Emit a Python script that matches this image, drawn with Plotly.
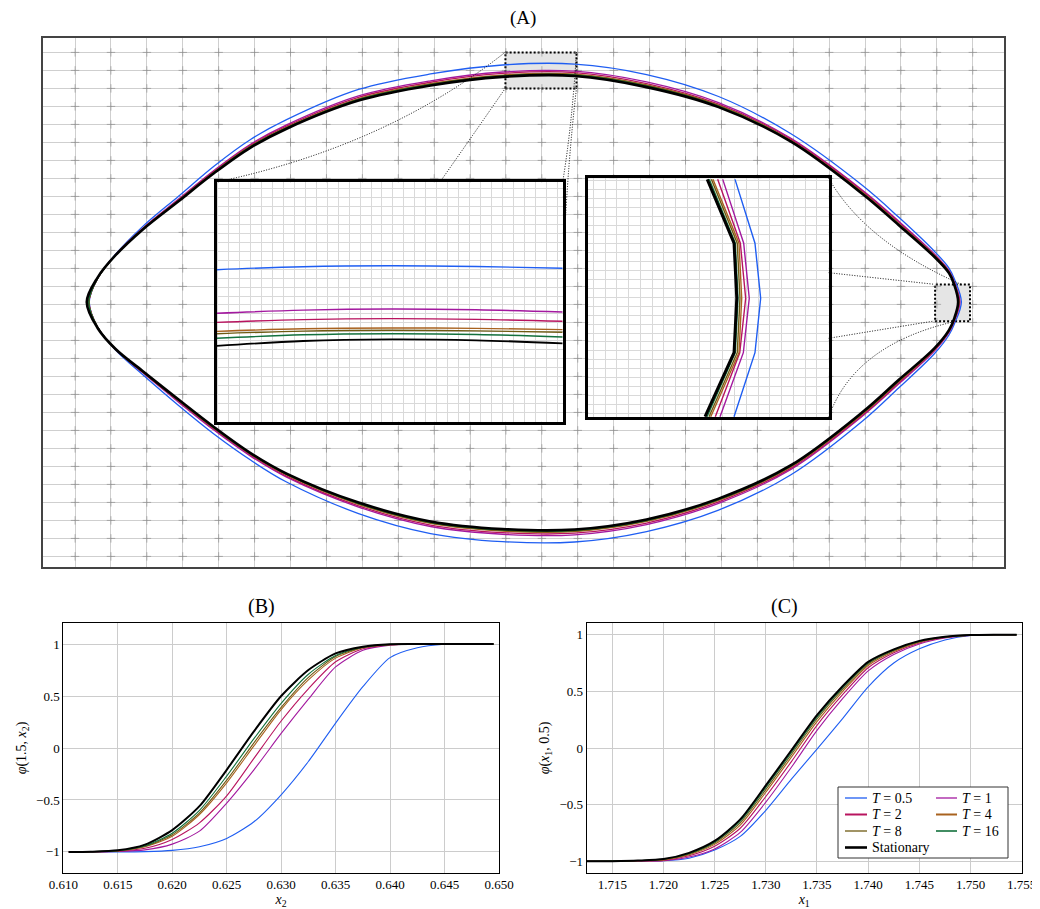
import numpy as np
import plotly.graph_objects as go

# page body has an 8 px margin: the figure is laid out in screen pixels of the 1040x909 window
OFF = 8
W, H = 1040 - OFF, 909 - OFF


def SX(px):
    return (px - OFF) / W


def SY(py):
    return 1 - (py - OFF) / H


# ---------------- series ----------------
names = ["<i>T</i> = 0.5", "<i>T</i> = 1", "<i>T</i> = 2", "<i>T</i> = 4",
         "<i>T</i> = 8", "<i>T</i> = 16", "Stationary"]

# ---------------- (A) interface contours: x2 of upper / lower branch at shared x1 ----------------
x1_samples = [1.255, 1.265, 1.28, 1.30, 1.32, 1.34, 1.36, 1.40, 1.44, 1.48,
              1.52, 1.56, 1.60, 1.64, 1.68, 1.70, 1.72, 1.728, 1.731]

a_up_T05 = [0.5131, 0.5266, 0.5419, 0.5588, 0.5757, 0.5903, 0.6013, 0.6181, 0.6267, 0.6317,
            0.6322, 0.6264, 0.6142, 0.5936, 0.5647, 0.5472, 0.5281, 0.5189, 0.5128]
a_lo_T05 = [0.4861, 0.4733, 0.4597, 0.4425, 0.4264, 0.4122, 0.4000, 0.3825, 0.3714, 0.3669,
            0.3667, 0.3725, 0.3844, 0.4039, 0.4339, 0.4522, 0.4714, 0.4817, 0.4878]
a_up_T1 = [0.5131, 0.5262, 0.5409, 0.5572, 0.5734, 0.5877, 0.5984, 0.6145, 0.6229, 0.6278,
           0.6283, 0.6223, 0.6108, 0.5911, 0.5621, 0.5450, 0.5266, 0.5175, 0.5111]
a_lo_T1 = [0.4861, 0.4737, 0.4608, 0.4444, 0.4286, 0.4144, 0.4027, 0.3861, 0.3753, 0.3710,
           0.3707, 0.3764, 0.3882, 0.4069, 0.4367, 0.4544, 0.4729, 0.4831, 0.4894]
a_up_T2 = [0.5131, 0.5262, 0.5407, 0.5568, 0.5729, 0.5871, 0.5977, 0.6137, 0.6221, 0.6270,
           0.6275, 0.6214, 0.6100, 0.5905, 0.5616, 0.5444, 0.5261, 0.5171, 0.5107]
a_lo_T2 = [0.4861, 0.4737, 0.4611, 0.4449, 0.4292, 0.4150, 0.4033, 0.3868, 0.3761, 0.3719,
           0.3716, 0.3772, 0.3890, 0.4076, 0.4372, 0.4550, 0.4733, 0.4834, 0.4899]
a_up_T4 = [0.5131, 0.5261, 0.5405, 0.5564, 0.5724, 0.5866, 0.5971, 0.6129, 0.6213, 0.6261,
           0.6266, 0.6206, 0.6093, 0.5899, 0.5609, 0.5437, 0.5257, 0.5167, 0.5101]
a_lo_T4 = [0.4861, 0.4738, 0.4613, 0.4453, 0.4297, 0.4155, 0.4039, 0.3876, 0.3770, 0.3728,
           0.3725, 0.3781, 0.3898, 0.4083, 0.4379, 0.4557, 0.4738, 0.4839, 0.4904]
a_up_T8 = [0.5131, 0.5261, 0.5404, 0.5563, 0.5723, 0.5864, 0.5969, 0.6127, 0.6211, 0.6258,
           0.6263, 0.6203, 0.6091, 0.5897, 0.5606, 0.5434, 0.5254, 0.5165, 0.5099]
a_lo_T8 = [0.4861, 0.4738, 0.4614, 0.4454, 0.4298, 0.4157, 0.4042, 0.3879, 0.3773, 0.3731,
           0.3728, 0.3784, 0.3901, 0.4086, 0.4382, 0.4560, 0.4740, 0.4841, 0.4907]
a_up_T16 = [0.5131, 0.5260, 0.5403, 0.5562, 0.5721, 0.5862, 0.5966, 0.6124, 0.6207, 0.6255,
            0.6260, 0.6199, 0.6087, 0.5895, 0.5603, 0.5431, 0.5252, 0.5163, 0.5097]
a_lo_T16 = [0.4861, 0.4739, 0.4616, 0.4456, 0.4300, 0.4158, 0.4044, 0.3882, 0.3776, 0.3734,
            0.3732, 0.3787, 0.3904, 0.4088, 0.4386, 0.4564, 0.4743, 0.4843, 0.4909]
a_up_stat = [0.5136, 0.5260, 0.5402, 0.5560, 0.5718, 0.5858, 0.5963, 0.6119, 0.6203, 0.6251,
             0.6256, 0.6194, 0.6083, 0.5892, 0.5600, 0.5428, 0.5250, 0.5161, 0.5094]
a_lo_stat = [0.4856, 0.4739, 0.4617, 0.4458, 0.4303, 0.4161, 0.4047, 0.3886, 0.3781, 0.3739,
             0.3736, 0.3792, 0.3908, 0.4092, 0.4389, 0.4567, 0.4744, 0.4844, 0.4911]
# tips on the line x2 = 0.5
tip_x2 = 0.5
tip_left = [1.2504, 1.2503, 1.2503, 1.2502, 1.2502, 1.2501, 1.2490]
tip_right = [1.7349, 1.7341, 1.7338, 1.7335, 1.7334, 1.7332, 1.7331]

# ---------------- zoom window 1 (top of interface) ----------------
z1_x1 = [1.4816, 1.49148, 1.50135, 1.51123, 1.5211]
z1_T05 = [0.63140, 0.63165, 0.63173, 0.63167, 0.63152]
z1_T1 = [0.62776, 0.62802, 0.62812, 0.62805, 0.62786]
z1_T2 = [0.62700, 0.62723, 0.62731, 0.62725, 0.62709]
z1_T4 = [0.62625, 0.62646, 0.62653, 0.62650, 0.62639]
z1_T8 = [0.62605, 0.62627, 0.62634, 0.62629, 0.62617]
z1_T16 = [0.62567, 0.62596, 0.62605, 0.62599, 0.62578]
z1_stat = [0.62503, 0.62544, 0.62558, 0.62550, 0.62525]

# ---------------- zoom window 2 (right tip) ----------------
z2_x2 = [0.50971, 0.50423, 0.49951, 0.49484, 0.48935]
z2_T05 = [1.73214, 1.73375, 1.73421, 1.73375, 1.73206]
z2_T1 = [1.73115, 1.73284, 1.73329, 1.73281, 1.73093]
z2_T2 = [1.73074, 1.73257, 1.73300, 1.73252, 1.73055]
z2_T4 = [1.73036, 1.73246, 1.73268, 1.73246, 1.73018]
z2_T8 = [1.73023, 1.73232, 1.73254, 1.73232, 1.73004]
z2_T16 = [1.73006, 1.73216, 1.73238, 1.73216, 1.72988]
z2_stat = [1.72990, 1.73206, 1.73228, 1.73206, 1.72972]

# ---------------- (B) phi(1.5, x2) ----------------
b_x2 = [0.6105, 0.6125, 0.615, 0.6175, 0.620, 0.6225, 0.625, 0.6275, 0.630,
        0.6325, 0.635, 0.6375, 0.640, 0.6425, 0.645, 0.6475, 0.6495]
b_T05 = [-1.0, -1.0, -1.0, -0.997, -0.985, -0.95, -0.87, -0.71, -0.45, -0.13, 0.24, 0.59, 0.87, 0.965, 0.998, 1.003, 1.0]
b_T1 = [-1.0, -1.0, -0.996, -0.98, -0.925, -0.80, -0.53, -0.21, 0.14, 0.47, 0.78, 0.94, 0.99, 1.004, 1.0, 1.0, 1.0]
b_T2 = [-1.0, -0.999, -0.993, -0.965, -0.88, -0.72, -0.46, -0.10, 0.26, 0.57, 0.83, 0.955, 0.993, 1.002, 1.0, 1.0, 1.0]
b_T4 = [-1.0, -0.998, -0.99, -0.95, -0.85, -0.64, -0.335, 0.02, 0.37, 0.655, 0.865, 0.965, 0.995, 1.0, 1.0, 1.0, 1.0]
b_T8 = [-1.0, -0.998, -0.989, -0.945, -0.835, -0.625, -0.31, 0.05, 0.39, 0.68, 0.88, 0.968, 0.996, 1.0, 1.0, 1.0, 1.0]
b_T16 = [-1.0, -0.998, -0.988, -0.94, -0.82, -0.60, -0.27, 0.09, 0.43, 0.71, 0.89, 0.97, 0.997, 1.0, 1.0, 1.0, 1.0]
b_stat = [-1.0, -0.998, -0.985, -0.93, -0.79, -0.56, -0.21, 0.16, 0.50, 0.75, 0.91, 0.975, 0.998, 1.0, 1.0, 1.0, 1.0]

# ---------------- (C) phi(x1, 0.5) ----------------
c_x1 = [1.7125, 1.715, 1.7175, 1.720, 1.7225, 1.725, 1.7275, 1.730, 1.7325,
        1.735, 1.7375, 1.740, 1.7425, 1.745, 1.7475, 1.750, 1.7525, 1.7545]
c_T05 = [-1.0, -1.0, -0.998, -0.995, -0.972, -0.90, -0.78, -0.55, -0.275, -0.01, 0.26, 0.54, 0.75, 0.875, 0.953, 0.993, 1.0, 1.0]
c_T1 = [-1.0, -0.999, -0.997, -0.994, -0.962, -0.89, -0.745, -0.478, -0.17, 0.155, 0.435, 0.68, 0.825, 0.918, 0.97, 0.993, 0.999, 1.0]
c_T2 = [-1.0, -0.999, -0.996, -0.991, -0.951, -0.867, -0.708, -0.428, -0.12, 0.20, 0.47, 0.708, 0.84, 0.927, 0.974, 0.994, 1.0, 1.0]
c_T4 = [-1.0, -0.999, -0.995, -0.987, -0.941, -0.85, -0.68, -0.39, -0.08, 0.233, 0.498, 0.728, 0.852, 0.934, 0.977, 0.995, 1.0, 1.0]
c_T8 = [-1.0, -0.998, -0.994, -0.984, -0.935, -0.838, -0.66, -0.367, -0.057, 0.256, 0.517, 0.74, 0.859, 0.938, 0.979, 0.996, 1.0, 1.0]
c_T16 = [-1.0, -0.998, -0.993, -0.982, -0.93, -0.829, -0.645, -0.348, -0.039, 0.273, 0.531, 0.75, 0.864, 0.942, 0.98, 0.996, 1.0, 1.0]
c_stat = [-1.0, -0.998, -0.993, -0.98, -0.925, -0.82, -0.63, -0.33, -0.02, 0.29, 0.545, 0.76, 0.87, 0.945, 0.982, 0.997, 1.0, 1.0]

# ---------------- styles ----------------
colors = ["#1f5ef2", "#a3199f", "#b8145f", "#a8621f", "#6e5a12", "#12703c", "#000000"]
w_main = [1.3, 1.3, 1.3, 1.3, 1.3, 1.3, 2.6]
w_zoom = [1.4, 1.4, 1.4, 1.4, 1.4, 1.4, 1.8]
w_prof = [1.1, 1.1, 1.1, 1.1, 1.1, 1.1, 2.0]
w_leg = [1.3, 1.3, 2.0, 2.0, 1.3, 1.6, 2.6]

A_XR = [1.2008 + 43 / 1800, 1.2008 + 1004 / 1800]
A_YR = [0.6678 - 567 / 1800, 0.6678 - 38 / 1800]
Z1_XR = [1.4816, 1.5211]
Z1_YR = [0.6187, 0.6387]
Z2_XR = [1.7203, 1.7397]
Z2_YR = [0.4893, 0.5098]

ups = [a_up_T05, a_up_T1, a_up_T2, a_up_T4, a_up_T8, a_up_T16, a_up_stat]
los = [a_lo_T05, a_lo_T1, a_lo_T2, a_lo_T4, a_lo_T8, a_lo_T16, a_lo_stat]
z1s = [z1_T05, z1_T1, z1_T2, z1_T4, z1_T8, z1_T16, z1_stat]
z2s = [z2_T05, z2_T1, z2_T2, z2_T4, z2_T8, z2_T16, z2_stat]
bs = [b_T05, b_T1, b_T2, b_T4, b_T8, b_T16, b_stat]
cs = [c_T05, c_T1, c_T2, c_T4, c_T8, c_T16, c_stat]

fig = go.Figure()

# mesh nodes of the main panel grid
gtx0, gdx = 1.2425, 0.01995
gty0, gdy = 0.6387, 0.01
gx = gtx0 + gdx * np.arange(-2, 30)
gx = gx[(gx > A_XR[0]) & (gx < A_XR[1])]
gy = gty0 - gdy * np.arange(-2, 32)
gy = gy[(gy > A_YR[0]) & (gy < A_YR[1])]
GX, GY = np.meshgrid(gx, gy)
fig.add_trace(go.Scatter(x=GX.ravel(), y=GY.ravel(), mode="markers", xaxis="x", yaxis="y",
                         marker=dict(symbol="cross-thin", size=6,
                                     line=dict(width=1, color="rgba(110,110,110,0.45)")),
                         hoverinfo="skip", showlegend=False))

i0 = 9
for k in range(7):
    up, lo = ups[k], los[k]
    xs = x1_samples[i0:] + [tip_right[k]] + x1_samples[::-1] + [tip_left[k]] + x1_samples[:i0 + 1]
    ys = up[i0:] + [tip_x2] + lo[::-1] + [tip_x2] + up[:i0 + 1]
    fig.add_trace(go.Scatter(x=xs, y=ys, mode="lines", xaxis="x", yaxis="y", name=names[k],
                             line=dict(color=colors[k], width=w_main[k], shape="spline", smoothing=1.0),
                             showlegend=False, hoverinfo="skip"))

for k in range(7):
    fig.add_trace(go.Scatter(x=z1_x1, y=z1s[k], mode="lines", xaxis="x2", yaxis="y2", name=names[k],
                             line=dict(color=colors[k], width=w_zoom[k], shape="spline"),
                             showlegend=False, hoverinfo="skip"))
for k in range(7):
    fig.add_trace(go.Scatter(x=z2s[k], y=z2_x2, mode="lines", xaxis="x3", yaxis="y3", name=names[k],
                             line=dict(color=colors[k], width=w_zoom[k] + (1.2 if k == 6 else 0)),
                             showlegend=False, hoverinfo="skip"))
for k in range(7):
    fig.add_trace(go.Scatter(x=b_x2, y=bs[k], mode="lines", xaxis="x4", yaxis="y4", name=names[k],
                             line=dict(color=colors[k], width=w_prof[k], shape="spline", smoothing=0.7),
                             showlegend=False, hoverinfo="skip"))
for k in range(7):
    fig.add_trace(go.Scatter(x=c_x1, y=cs[k], mode="lines", xaxis="x5", yaxis="y5", name=names[k],
                             line=dict(color=colors[k], width=w_prof[k], shape="spline", smoothing=0.7),
                             showlegend=False, hoverinfo="skip"))


def qpath(p0, c, p1):
    return (f"M {SX(p0[0]):.5f},{SY(p0[1]):.5f} Q {SX(c[0]):.5f},{SY(c[1]):.5f} "
            f"{SX(p1[0]):.5f},{SY(p1[1]):.5f}")


dot_thin = dict(color="black", width=1, dash="1px,1.6px")
shapes = [
    dict(type="rect", xref="x", yref="y", x0=Z1_XR[0], x1=Z1_XR[1], y0=Z1_YR[0], y1=Z1_YR[1],
         fillcolor="#e5e5e5", line=dict(color="black", width=2, dash="2px,2px"), layer="between"),
    dict(type="rect", xref="x", yref="y", x0=Z2_XR[0], x1=Z2_XR[1], y0=Z2_YR[0], y1=Z2_YR[1],
         fillcolor="#e5e5e5", line=dict(color="black", width=2, dash="2px,2px"), layer="between"),
    # connectors, window 1
    dict(type="path", xref="paper", yref="paper", path=qpath((505.5, 52), (387, 146), (217, 182)),
         line=dot_thin, layer="above"),
    dict(type="path", xref="paper", yref="paper", path=qpath((505.5, 88), (473, 135), (440, 182)),
         line=dot_thin, layer="above"),
    dict(type="path", xref="paper", yref="paper", path=qpath((576.5, 52), (572, 125), (562.7, 182)),
         line=dot_thin, layer="above"),
    dict(type="path", xref="paper", yref="paper", path=qpath((576.5, 88), (568, 160), (563.5, 255)),
         line=dot_thin, layer="above"),
    # connectors, window 2
    dict(type="path", xref="paper", yref="paper", path=qpath((828.7, 178.3), (865, 242), (961, 284.3)),
         line=dot_thin, layer="above"),
    dict(type="path", xref="paper", yref="paper", path=qpath((828.7, 272.7), (881, 278.5), (934.3, 284.3)),
         line=dot_thin, layer="above"),
    dict(type="path", xref="paper", yref="paper", path=qpath((828.7, 338.3), (881, 329.6), (934.3, 321)),
         line=dot_thin, layer="above"),
    dict(type="path", xref="paper", yref="paper", path=qpath((828.7, 417.3), (854, 344), (957, 321)),
         line=dot_thin, layer="above"),
    # legend frame
    dict(type="rect", xref="paper", yref="paper", x0=SX(838), x1=SX(1008), y0=SY(858), y1=SY(787),
         fillcolor="white", line=dict(color="#333", width=1), layer="above"),
]

title_font = dict(family="Liberation Serif", size=19, color="black")
annotations = [
    dict(text="(A)", x=SX(523), y=SY(18), xref="paper", yref="paper", showarrow=False,
         xanchor="center", yanchor="middle", font=title_font),
    dict(text="(B)", x=SX(261), y=SY(606), xref="paper", yref="paper", showarrow=False,
         xanchor="center", yanchor="middle", font=dict(family="Liberation Serif", size=20, color="black")),
    dict(text="(C)", x=SX(784), y=SY(606), xref="paper", yref="paper", showarrow=False,
         xanchor="center", yanchor="middle", font=dict(family="Liberation Serif", size=20, color="black")),
]

# legend of panel (C): two columns, row-major like the reference
leg_rows = [798, 814.5, 831, 847.5]
leg_cols = [(845, 867, 870), (936, 957, 960)]
for k in range(7):
    r, c = k // 2, k % 2
    x0, x1, xt = leg_cols[c]
    yy = leg_rows[r]
    shapes.append(dict(type="line", xref="paper", yref="paper", x0=SX(x0), x1=SX(x1), y0=SY(yy), y1=SY(yy),
                       line=dict(color=colors[k], width=w_leg[k]), layer="above"))
    annotations.append(dict(text=names[k], x=SX(xt), y=SY(yy), xref="paper", yref="paper", showarrow=False,
                            xanchor="left", yanchor="middle",
                            font=dict(family="Liberation Serif", size=14, color="black")))

main_ax = dict(showticklabels=False, ticks="", showgrid=True, gridcolor="#cfcfcf", gridwidth=1,
               zeroline=False, showline=True, mirror=True, linecolor="#444", linewidth=1.5,
               automargin=False)
zoom_ax = dict(showticklabels=False, ticks="", showgrid=True, gridcolor="#d9d9d9", gridwidth=0.8,
               zeroline=False, showline=True, mirror=True, linecolor="black", linewidth=3,
               automargin=False)
prof_ax = dict(ticks="", showgrid=True, gridcolor="#cccccc", gridwidth=1, zeroline=False,
               showline=True, mirror=True, linecolor="black", linewidth=1,
               tickfont=dict(size=13), automargin=False, ticklabeloverflow="allow")

b_xticks = [0.610, 0.615, 0.620, 0.625, 0.630, 0.635, 0.640, 0.645, 0.650]
c_xticks = [1.715, 1.720, 1.725, 1.730, 1.735, 1.740, 1.745, 1.750, 1.755]
phi_ticks = [-1, -0.5, 0, 0.5, 1]

fig.update_layout(
    width=W, height=H, margin=dict(l=0, r=0, t=0, b=0, pad=0, autoexpand=False), autosize=False,
    paper_bgcolor="white", plot_bgcolor="white", showlegend=False,
    font=dict(family="Liberation Serif", size=14, color="black"),
    xaxis=dict(domain=[SX(43), SX(1004)], range=A_XR, anchor="y", tick0=gtx0, dtick=gdx, **main_ax),
    yaxis=dict(domain=[SY(567), SY(38)], range=A_YR, anchor="x", tick0=gty0, dtick=gdy, **main_ax),
    xaxis2=dict(domain=[SX(216.7), SX(562.7)], range=Z1_XR, anchor="y2", tick0=1.48297, dtick=0.00125, **zoom_ax),
    yaxis2=dict(domain=[SY(421.7), SY(182.3)], range=Z1_YR, anchor="x2", tick0=0.6187, dtick=0.00075, **zoom_ax),
    xaxis3=dict(domain=[SX(588.3), SX(828.7)], range=Z2_XR, anchor="y3", tick0=1.7207, dtick=0.00095, **zoom_ax),
    yaxis3=dict(domain=[SY(417.3), SY(178.3)], range=Z2_YR, anchor="x3", tick0=0.4896, dtick=0.00077, **zoom_ax),
    xaxis4=dict(domain=[SX(63.3), SX(499)], range=[0.610, 0.650], anchor="y4", tickvals=b_xticks,
                tickformat=".3f", title=dict(text="<i>x</i><sub>2</sub>", standoff=0, font=dict(size=14)), **prof_ax),
    yaxis4=dict(domain=[SY(872.7), SY(623.3)], range=[-1.2, 1.2], anchor="x4", tickvals=phi_ticks,
                title=dict(text="<i>φ</i>(1.5, <i>x</i><sub>2</sub>)", standoff=6, font=dict(size=14)), **prof_ax),
    xaxis5=dict(domain=[SX(586.7), SX(1021.7)], range=[1.7125, 1.755], anchor="y5", tickvals=c_xticks,
                tickformat=".3f", title=dict(text="<i>x</i><sub>1</sub>", standoff=0, font=dict(size=14)), **prof_ax),
    yaxis5=dict(domain=[SY(872.7), SY(623.3)], range=[-1.1, 1.1], anchor="x5", tickvals=phi_ticks,
                title=dict(text="<i>φ</i>(<i>x</i><sub>1</sub>, 0.5)", standoff=6, font=dict(size=14)), **prof_ax),
    shapes=shapes, annotations=annotations,
)

fig.write_html("out.html")
